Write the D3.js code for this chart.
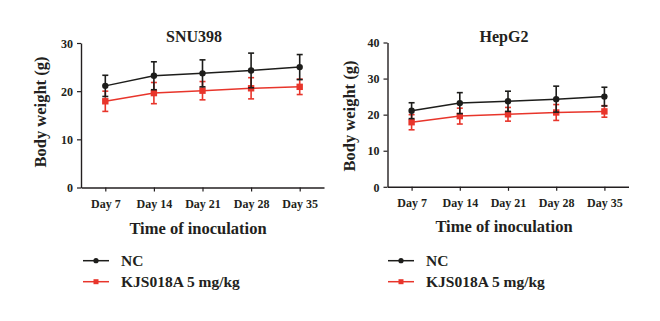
<!DOCTYPE html>
<html>
<head>
<meta charset="utf-8">
<script src="https://cdn.jsdelivr.net/npm/d3@7/dist/d3.min.js"></script>
<style>
  html, body { margin: 0; padding: 0; background: #fff; }
  svg { display: block; }
  text { font-family: "Liberation Serif", "Times New Roman", serif; font-weight: bold; fill: #231f20; }
</style>
</head>
<body>
<svg id="chart" width="660" height="321"></svg>
<script>
// Time points and group means / SDs (body weight, g)
const days = ["Day 7", "Day 14", "Day 21", "Day 28", "Day 35"];
const ncMean = [21.1, 23.2, 23.7, 24.3, 25.0];
const ncSD = [2.2, 2.9, 2.8, 3.6, 2.6];
const kjsMean = [17.9, 19.6, 20.1, 20.6, 20.9];
const kjsSD = [2.1, 2.2, 1.9, 2.2, 1.6];

const seriesNames = ["NC", "KJS018A 5 mg/kg"];
const seriesColors = ["#1d1d1b", "#e8352b"];

const panelTitles = ["SNU398", "HepG2"];
const yMaxes = [30, 40];
const yTicks = [[0, 10, 20, 30], [0, 10, 20, 30, 40]];

const svg = d3.select("#chart");

const panels = [
  { x0: 81, x1: 324, yTop: 43, yBottom: 187.5, yLabelX: 40, yLabelY: 112, xTitleX: 198, xTitleY: 234, titleX: 194, legendX: 83 },
  { x0: 387.5, x1: 628.5, yTop: 42.5, yBottom: 186.8, yLabelX: 349, yLabelY: 116, xTitleX: 504, xTitleY: 232, titleX: 504, legendX: 388 }
];

const series = [
  { name: seriesNames[1], color: seriesColors[1], mean: kjsMean, sd: kjsSD, shape: "square" },
  { name: seriesNames[0], color: seriesColors[0], mean: ncMean, sd: ncSD, shape: "circle" }
];

panels.forEach((p, i) => {
  const g = svg.append("g");
  const x = d3.scalePoint().domain(days).range([p.x0, p.x1]).padding(0.5);
  const y = d3.scaleLinear().domain([0, yMaxes[i]]).range([p.yBottom, p.yTop]);

  // axes
  const yAxis = g.append("g")
    .attr("transform", `translate(${p.x0},0)`)
    .call(d3.axisLeft(y).tickValues(yTicks[i]).tickSize(4).tickPadding(4).tickSizeOuter(0));
  const xAxis = g.append("g")
    .attr("transform", `translate(0,${p.yBottom})`)
    .call(d3.axisBottom(x).tickSize(4).tickPadding(6).tickSizeOuter(0));
  [yAxis, xAxis].forEach(a => {
    a.select(".domain").attr("stroke", "#231f20").attr("stroke-width", 1.4);
    a.selectAll(".tick line").attr("stroke", "#231f20").attr("stroke-width", 1.2);
    a.selectAll("text").attr("font-size", 12).attr("font-family", null).attr("fill", "#231f20");
  });
  yAxis.selectAll("text").attr("dy", "0.35em");
  xAxis.selectAll("text").attr("dy", "0.85em");

  // panel title
  g.append("text").attr("x", p.titleX).attr("y", 42)
    .attr("text-anchor", "middle").attr("font-size", 16).text(panelTitles[i]);

  // axis titles
  g.append("text").attr("x", p.xTitleX).attr("y", p.xTitleY)
    .attr("text-anchor", "middle").attr("font-size", 16.5).text("Time of inoculation");
  g.append("text")
    .attr("transform", `translate(${p.yLabelX + 6},${p.yLabelY}) rotate(-90)`)
    .attr("text-anchor", "middle").attr("font-size", 16.5).text("Body weight (g)");

  // series
  series.forEach(s => {
    const pts = days.map((d, k) => ({ d, m: s.mean[k], sd: s.sd[k] }));
    const sg = g.append("g");
    // error bars
    const eb = sg.selectAll(".eb").data(pts).enter().append("g");
    eb.append("line")
      .attr("x1", d => x(d.d)).attr("x2", d => x(d.d))
      .attr("y1", d => y(d.m - d.sd)).attr("y2", d => y(d.m + d.sd))
      .attr("stroke", s.color).attr("stroke-width", 1.6);
    [-1, 1].forEach(sign => {
      eb.append("line")
        .attr("x1", d => x(d.d) - 3).attr("x2", d => x(d.d) + 3)
        .attr("y1", d => y(d.m + sign * d.sd)).attr("y2", d => y(d.m + sign * d.sd))
        .attr("stroke", s.color).attr("stroke-width", 1.6);
    });
    // mean line
    sg.append("path")
      .datum(pts)
      .attr("fill", "none").attr("stroke", s.color).attr("stroke-width", 1.5)
      .attr("d", d3.line().x(d => x(d.d)).y(d => y(d.m)));
    // markers
    if (s.shape === "circle") {
      sg.selectAll(".mk").data(pts).enter().append("circle")
        .attr("cx", d => x(d.d)).attr("cy", d => y(d.m)).attr("r", 3.2)
        .attr("fill", s.color);
    } else {
      sg.selectAll(".mk").data(pts).enter().append("rect")
        .attr("x", d => x(d.d) - 3.2).attr("y", d => y(d.m) - 3.2)
        .attr("width", 6.4).attr("height", 6.4)
        .attr("fill", s.color);
    }
  });

  // legend
  const legendRows = [
    { name: seriesNames[0], color: seriesColors[0], shape: "circle", y: 260.7 },
    { name: seriesNames[1], color: seriesColors[1], shape: "square", y: 281.7 }
  ];
  legendRows.forEach(r => {
    const lg = g.append("g");
    lg.append("line").attr("x1", p.legendX).attr("x2", p.legendX + 26)
      .attr("y1", r.y).attr("y2", r.y).attr("stroke", r.color).attr("stroke-width", 1.5);
    if (r.shape === "circle") {
      lg.append("circle").attr("cx", p.legendX + 13).attr("cy", r.y).attr("r", 2.6).attr("fill", r.color);
    } else {
      lg.append("rect").attr("x", p.legendX + 10.5).attr("y", r.y - 2.5)
        .attr("width", 5).attr("height", 5).attr("fill", r.color);
    }
    lg.append("text").attr("x", p.legendX + 38).attr("y", r.y + 5)
      .attr("font-size", 15.5).text(r.name);
  });
});
</script>
</body>
</html>
